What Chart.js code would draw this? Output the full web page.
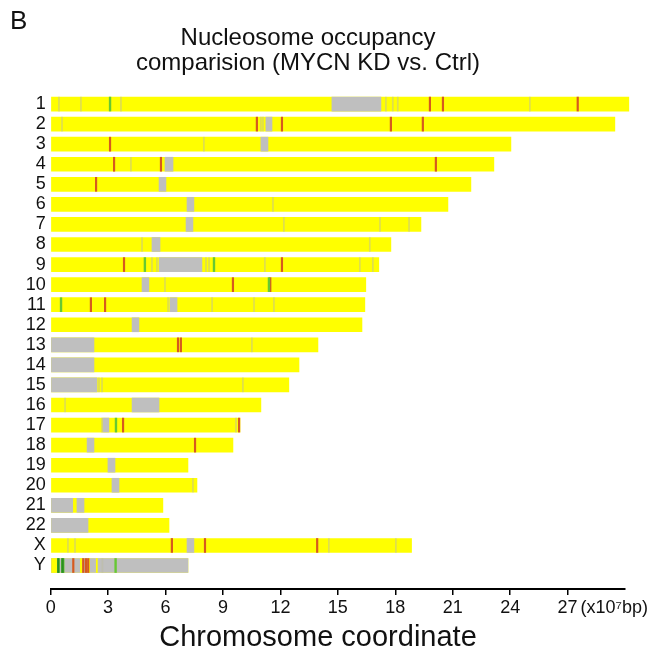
<!DOCTYPE html>
<html>
<head>
<meta charset="utf-8">
<script src="https://cdn.jsdelivr.net/npm/chart.js@4.4.1/dist/chart.umd.min.js"></script>
<style>
html,body{margin:0;padding:0;background:#fff;}
#wrap{width:655px;height:655px;}
</style>
</head>
<body>
<div id="wrap"><canvas id="c" width="655" height="655"></canvas></div>
<script>
// ---- data (x in units of the drawn axis, labelled x10^7 bp) ----
const chromosomes = ['1','2','3','4','5','6','7','8','9','10','11','12','13','14','15','16','17','18','19','20','21','22','X','Y'];
const chromLength = [30.20,29.47,24.04,23.15,21.95,20.75,19.34,17.77,17.14,16.46,16.41,16.26,13.96,12.97,12.44,10.98,9.89,9.52,7.17,7.64,5.86,6.18,18.85,7.17];
const xTickValues = [0,3,6,9,12,15,18,21,24,27];
const titleLines = ['Nucleosome occupancy','comparision (MYCN KD vs. Ctrl)'];
const panelLabel = 'B';
const unitLabel = '(x10\u2077bp)';
const axisTitle = 'Chromosome coordinate';

// gray regions: [chromosome, start, end]
const grayRegions = [
  ['1',14.69,17.25],['2',11.24,11.56],['3',10.98,11.35],['4',5.97,6.39],['5',5.66,6.02],
  ['6',7.12,7.48],['7',7.07,7.43],['8',5.29,5.71],['9',5.66,7.90],['10',4.77,5.13],
  ['11',6.23,6.60],['12',4.25,4.61],['13',0,2.26],['14',0,2.26],['15',0,2.42],
  ['16',4.25,5.66],['17',2.73,3.04],['18',1.90,2.26],['19',2.99,3.36],['20',3.20,3.57],
  ['21',0,1.15],['21',1.37,1.74],['22',0,1.95],['X',7.12,7.48],['Y',0,7.17]
];
// yellow regions drawn over gray (chromosome Y): [chromosome, start, end]
const yellowRegions = [['Y',0.05,0.31],['Y',1.55,1.63],['Y',1.97,2.03],['Y',2.38,2.44]];
// green regions: [chromosome, start, end]
const greenRegions = [['Y',0.36,0.44],['Y',0.56,0.70]];
// dark green marks: [chromosome, position]
const darkGreenMarks = [['Y',0.40],['Y',0.62]];
// red/orange marks: [chromosome, position]
const redMarks = [
  ['1',19.81],['1',20.49],['1',27.53],
  ['2',10.77],['2',12.08],['2',17.77],['2',19.44],
  ['3',3.10],['4',3.31],['4',5.76],['4',20.12],['5',2.37],
  ['9',3.83],['9',12.08],['10',9.52],['10',11.47],['11',2.10],['11',2.84],
  ['13',6.65],['13',6.80],['17',3.78],['17',9.84],['18',7.54],
  ['X',6.33],['X',8.06],['X',13.92],
  ['Y',1.18],['Y',1.70],['Y',1.84],['Y',1.96]
];
// green marks: [chromosome, position]
const greenMarks = [['1',3.10],['9',4.92],['9',8.53],['10',11.40],['11',0.54],['17',3.41],['Y',3.39]];
// faint marks: [chromosome, position]
const faintMarks = [
  ['1',0.43],['1',1.58],['1',3.67],['1',17.51],['1',17.87],['1',18.13],['1',25.03],
  ['2',0.59],['2',10.98],['2',11.09],['3',8.00],['4',4.19],['6',11.61],
  ['7',12.18],['7',17.20],['7',18.72],['8',4.77],['8',16.67],
  ['9',5.29],['9',5.55],['9',8.11],['9',8.27],['9',11.19],['9',16.15],['9',16.83],
  ['10',5.97],['11',6.13],['11',8.43],['11',10.62],['11',11.66],['13',10.51],
  ['15',2.52],['15',2.68],['15',10.04],['16',0.75],['17',2.68],['17',9.68],['20',7.43],
  ['X',0.90],['X',1.27],['X',14.53],['X',18.03],['Y',2.70]
];

// ---- styles ----
const YELLOW = '#ffff00', GRAY = '#bfbfbf', RED = '#d65a1e', GREEN = '#66c833', DKGREEN = '#2a8f22', FAINT = 'rgba(190,190,160,0.5)';
const W_RED = 0.08, W_GREEN = 0.09, W_FAINT = 0.055;
const FONT = '"Liberation Sans", Arial, sans-serif';

const idx = c => chromosomes.indexOf(c);
const region = arr => arr.map(([c,s,e]) => ({x:[s,e], y:idx(c)}));
const marks = (arr,w) => arr.map(([c,p]) => ({x:[p-w/2,p+w/2], y:idx(c)}));

function ds(label, data, color, order){
  return {label, data, backgroundColor: color, borderWidth: 0, grouped: false, barThickness: 14, order, clip: false};
}

const textPlugin = {
  id: 'texts',
  afterDraw(chart){
    const ctx = chart.ctx;
    ctx.save();
    ctx.fillStyle = '#111';
    ctx.textBaseline = 'alphabetic';
    ctx.textAlign = 'left';
    ctx.font = '26px ' + FONT;
    ctx.fillText(panelLabel, 10, 29);
    ctx.textAlign = 'center';
    ctx.font = '24px ' + FONT;
    ctx.fillText(titleLines[0], 308, 45);
    ctx.fillText(titleLines[1], 308, 70);
    ctx.font = '29px ' + FONT;
    ctx.fillText(axisTitle, 318, 646);
    ctx.textAlign = 'left';
    ctx.font = '18px ' + FONT;
    const xs = chart.scales.x;
    ctx.fillText(unitLabel, xs.getPixelForValue(27) + 13, 613);
    ctx.restore();
  }
};

new Chart(document.getElementById('c'), {
  type: 'bar',
  data: {
    datasets: [
      ds('base', chromLength.map((l,i)=>({x:[0,l], y:i})), YELLOW, 10),
      ds('gray', region(grayRegions), GRAY, 9),
      ds('yellow', region(yellowRegions), YELLOW, 8),
      ds('faint', marks(faintMarks, W_FAINT), FAINT, 7),
      ds('greenRegion', region(greenRegions), GREEN, 6),
      ds('red', marks(redMarks, W_RED), RED, 5),
      ds('green', marks(greenMarks, W_GREEN), GREEN, 4),
      ds('darkGreen', marks(darkGreenMarks, W_GREEN), DKGREEN, 3)
    ]
  },
  options: {
    responsive: false,
    animation: false,
    indexAxis: 'y',
    layout: {padding: {top: 83.5, right: 30, left: 0, bottom: 0}},
    plugins: {legend: {display: false}, tooltip: {enabled: false}, title: {display: false}},
    scales: {
      x: {
        type: 'linear', min: 0, max: 30,
        afterBuildTicks: s => { s.ticks = xTickValues.map(v => ({value: v})); },
        afterFit: s => { s.height = 66; },
        ticks: {font: {family: FONT, size: 18}, color: '#111', padding: 2, maxRotation: 0, autoSkip: false},
        grid: {display: true, drawOnChartArea: false, drawTicks: true, tickLength: 6, color: '#000', lineWidth: 1.5},
        border: {display: true, color: '#000', width: 2}
      },
      y: {
        type: 'linear', reverse: true, min: -0.5, max: 23.645,
        afterBuildTicks: s => { s.ticks = chromosomes.map((c,i) => ({value: i})); },
        afterFit: s => { s.width = 50.7; },
        ticks: {font: {family: FONT, size: 18}, color: '#111', padding: 5, autoSkip: false,
                callback: v => chromosomes[v]},
        grid: {display: false, drawTicks: false},
        border: {display: false}
      }
    }
  },
  plugins: [textPlugin]
});
</script>
</body>
</html>
